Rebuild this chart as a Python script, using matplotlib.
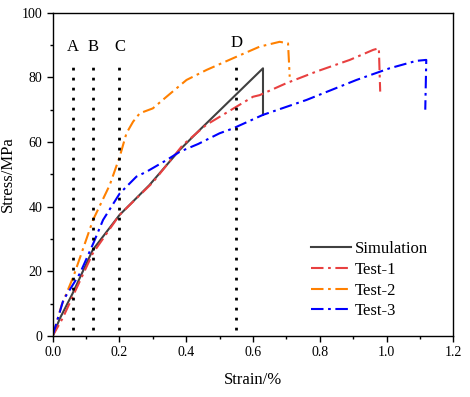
import matplotlib
matplotlib.use("Agg")
import matplotlib.pyplot as plt
from matplotlib.ticker import MultipleLocator

plt.rcParams['font.family'] = ['Liberation Serif', 'DejaVu Serif']

sim_x = [0, 0.022, 0.06, 0.12, 0.20, 0.29, 0.38, 0.44, 0.63, 0.63]
sim_y = [0, 5.5, 13.2, 26.6, 37.4, 46.7, 57.5, 63.7, 82.8, 68.4]

t1_x = [0, 0.03, 0.06, 0.12, 0.20, 0.30, 0.39, 0.46, 0.51, 0.55, 0.60, 0.62, 0.70, 0.79, 0.89, 0.96, 0.977, 0.981]
t1_y = [0, 5.5, 12.2, 25.5, 37.4, 47.5, 59.1, 65.3, 68.4, 70.9, 74.0, 74.5, 78.2, 81.8, 85.4, 88.5, 89.0, 75.6]

t2_x = [0, 0.027, 0.062, 0.121, 0.171, 0.201, 0.221, 0.241, 0.261, 0.30, 0.341, 0.401, 0.461, 0.54, 0.62, 0.68, 0.705, 0.71]
t2_y = [0, 9.6, 18.3, 35.9, 46.7, 55.5, 62.7, 66.3, 68.9, 70.4, 74.0, 79.2, 82.3, 85.9, 89.5, 91.0, 90.5, 80.2]

t3_x = [0, 0.032, 0.082, 0.122, 0.151, 0.201, 0.251, 0.281, 0.341, 0.381, 0.436, 0.50, 0.54, 0.63, 0.76, 0.91, 1.009, 1.089, 1.119, 1.116]
t3_y = [0, 11.1, 19.4, 28.7, 35.9, 44.1, 49.3, 50.8, 54.4, 57.0, 59.4, 62.7, 64.2, 68.4, 73.0, 79.2, 82.8, 85.1, 85.4, 70.0]

mark_x = [0.06, 0.12, 0.20, 0.55]
mark_labels = ['A', 'B', 'C', 'D']
mark_label_y = [89.5, 89.5, 89.5, 90.6]

x_ticks = [0.0, 0.2, 0.4, 0.6, 0.8, 1.0, 1.2]
y_ticks = [0, 20, 40, 60, 80, 100]

fig = plt.figure(figsize=(4.70, 3.97), dpi=100)
ax = fig.add_axes([0.112, 0.1537, 0.8525, 0.8143])

dd = (6, 2.2, 1.3, 2.2)
ax.plot(sim_x, sim_y, color='#404040', lw=1.5, label='Simulation')
ax.plot(t1_x, t1_y, color='#e84040', lw=1.5, dashes=dd, label='Test-1')
ax.plot(t2_x, t2_y, color='#ff8000', lw=1.5, dashes=dd, label='Test-2')
ax.plot(t3_x, t3_y, color='#0000ff', lw=1.5, dashes=dd, label='Test-3')

for x, lab, ly in zip(mark_x, mark_labels, mark_label_y):
    ax.plot([x, x], [2, 85], color='black', lw=2, linestyle=(0, (1, 2.6)),
            dash_capstyle='butt')
    ax.text(x, ly, lab, ha='center', va='center', fontsize=12)

ax.set_xlim(0, 1.2)
ax.set_ylim(0, 100)
ax.set_xticks(x_ticks)
ax.set_xticklabels([f'{v:.1f}' for v in x_ticks])
ax.set_yticks(y_ticks)
ax.xaxis.set_minor_locator(MultipleLocator(0.1))
ax.yaxis.set_minor_locator(MultipleLocator(10))
ax.tick_params(which='major', direction='out', length=4, width=1, labelsize=10)
ax.tick_params(which='minor', direction='out', length=2.5, width=1)
for s in ax.spines.values():
    s.set_linewidth(1)

ax.set_xlabel('Strain/%', fontsize=12, labelpad=9)
ax.set_ylabel('Stress/MPa', fontsize=12, labelpad=4)

ax.legend(loc='upper left', bbox_to_anchor=(0.645, 0.293), frameon=False,
          fontsize=12, handlelength=2.4, handletextpad=0.2, borderpad=0,
          borderaxespad=0, labelspacing=0.28)

fig.savefig('out.png', dpi=100)
